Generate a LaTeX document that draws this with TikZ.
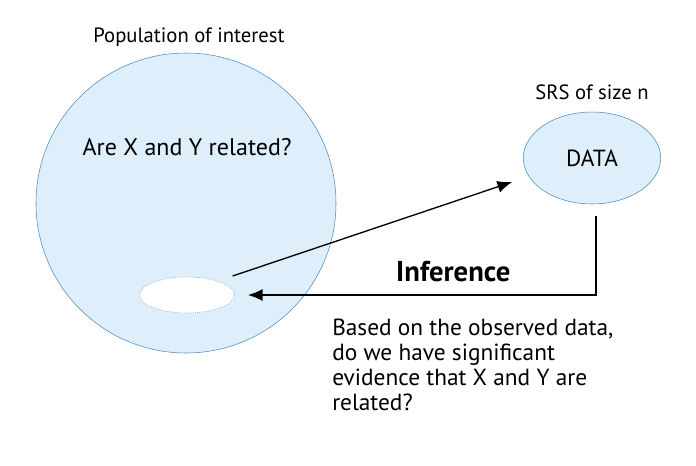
\documentclass[tikz,border=0pt]{standalone}
\usepackage{fontspec}
\setmainfont{PT Sans}
\usetikzlibrary{positioning,arrows.meta,shapes.geometric}
\definecolor{popfill}{RGB}{222,238,251}
\definecolor{popdraw}{RGB}{70,140,200}
\tikzset{
  population/.style={circle, draw=popdraw, fill=popfill, minimum size=225pt, inner sep=0pt},
  sample/.style={ellipse, draw=popdraw, densely dotted, fill=white, minimum width=71pt, minimum height=27pt},
  dataell/.style={ellipse, draw=popdraw, fill=popfill, minimum width=103pt, minimum height=69pt, inner sep=0pt, font=\fontsize{17.5}{20}\selectfont},
  lbl/.style={font=\fontsize{15.5}{18}\selectfont, inner sep=0pt},
  arr/.style={-{Latex[length=11pt,width=9pt]}, line width=1pt, black},
}

\begin{document}
\begin{tikzpicture}[x=0.75pt, y=-0.75pt]
  \useasboundingbox (0,0) rectangle (696,465);
  \node[population] (pop) at (186,203) {};
  \node[lbl] (poplabel) at (189,37) {Population of interest};
  \node[lbl, font=\fontsize{18}{20}\selectfont] (question) at (187,147) {Are X and Y related?};
  \node[sample] (sample) at (187,295) {};

  \node[dataell] (data) at (592,158) {DATA};
  \node[lbl] (srs) [above=9pt of data] {SRS of size n};

  % arrows
  \coordinate (out) at ([shift={(-2,-19)}]sample.east);
  \coordinate (in) at ([shift={(-11,24)}]data.west);
  \draw[arr] (out) -- (in);
  \draw[arr] ([shift={(4,12)}]data.south) |- ([xshift=10]sample.east)
    node[pos=0.705, above=6pt, font=\fontsize{21.5}{24}\selectfont\bfseries] (inf) {Inference};

  \node[lbl, anchor=north west, align=left, font=\fontsize{17.5}{18.75}\selectfont] (question2) at (332,319)
    {Based on the observed data,\\do we have significant\\evidence that X and Y are\\related?};
\end{tikzpicture}
\end{document}
